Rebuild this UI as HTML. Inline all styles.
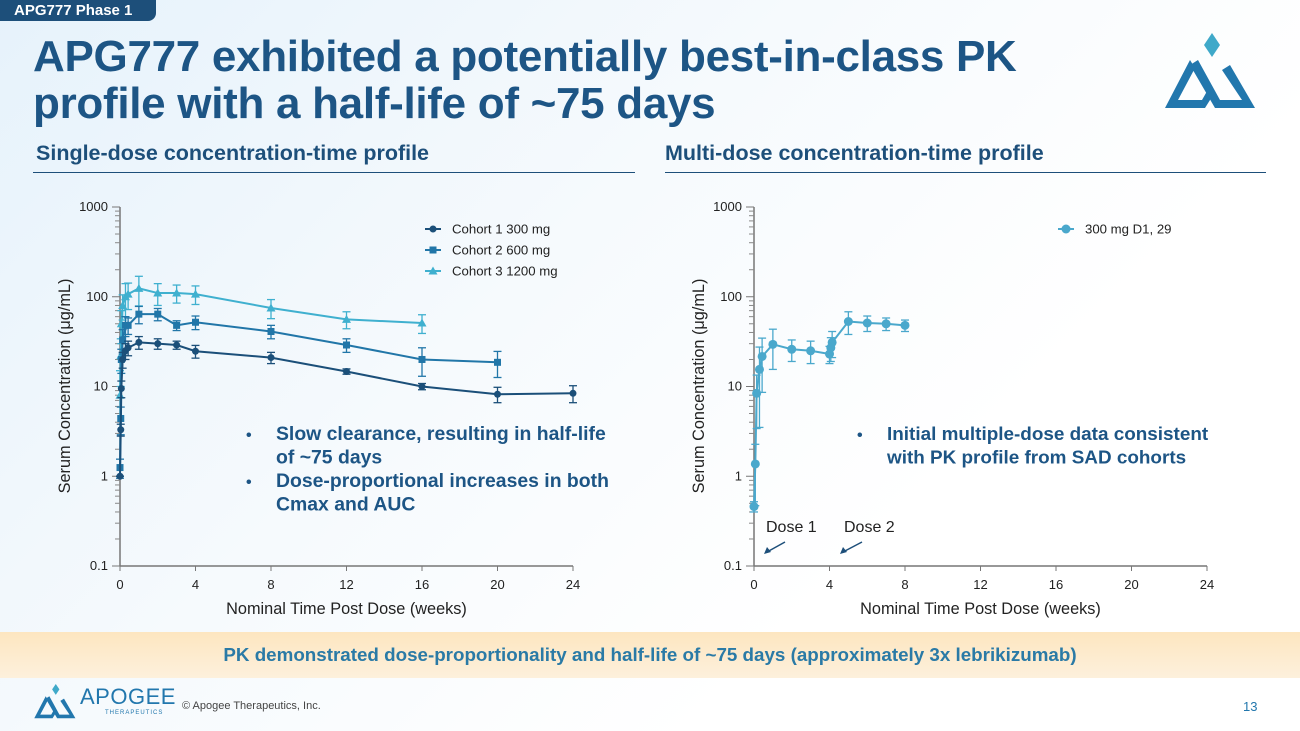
<!DOCTYPE html>
<html><head><meta charset="utf-8"><style>
body{margin:0;width:1300px;height:731px;overflow:hidden;font-family:"Liberation Sans",sans-serif;background:linear-gradient(135deg,#e6f2fb 0%,#f6fafd 40%,#ffffff 70%);position:relative}
.abs{position:absolute}
</style></head><body>
<div class="abs" style="left:0;top:0;width:156px;height:21px;background:#1d4f7a;border-bottom-right-radius:8px;color:#fff;font-weight:bold;font-size:15px;line-height:21px;padding-left:14px;box-sizing:border-box">APG777 Phase 1</div>
<div class="abs" style="left:33px;top:33px;color:#1d5585;font-weight:bold;font-size:44px;line-height:47px;letter-spacing:-0.3px;white-space:nowrap">APG777 exhibited a potentially best-in-class PK<br>profile with a half-life of ~75 days</div>
<svg class="abs" style="left:1160px;top:30px" width="105" height="85" viewBox="0 0 105 85"><polygon points="52,3 60,15 52,27 44,15" fill="#3fa9c9"/><polygon points="30,35 55,78 95,78 70,35 62,40 82,70 60,70 38,30" fill="#2277ad"/><polygon points="30,30 5,78 45,78 55,62 50,56 42,70 18,70 35,38" fill="#2277ad"/></svg>
<div class="abs" style="left:36px;top:141px;font-weight:bold;font-size:21.5px;color:#1d4f7a;white-space:nowrap">Single-dose concentration-time profile</div>
<div class="abs" style="left:33px;top:172px;width:602px;height:1px;background:#1d4f7a"></div>
<div class="abs" style="left:665px;top:141px;font-weight:bold;font-size:21.5px;color:#1d4f7a;white-space:nowrap">Multi-dose concentration-time profile</div>
<div class="abs" style="left:665px;top:172px;width:601px;height:1px;background:#1d4f7a"></div>
<svg id="chart" class="abs" style="left:0;top:0" width="1300" height="731"></svg>
<div class="abs" style="left:0;top:632px;width:1300px;height:46px;background:linear-gradient(180deg,#fde6c0,#fdf0dc);text-align:center;line-height:46px;font-weight:bold;font-size:18.8px;color:#2a7aa6;white-space:nowrap">PK demonstrated dose-proportionality and half-life of ~75 days (approximately 3x lebrikizumab)</div>
<svg class="abs" style="left:32px;top:682px" width="48" height="40" viewBox="0 0 105 85"><polygon points="52,3 60,15 52,27 44,15" fill="#3fa9c9"/><polygon points="30,35 55,78 95,78 70,35 62,40 82,70 60,70 38,30" fill="#2277ad"/><polygon points="30,30 5,78 45,78 55,62 50,56 42,70 18,70 35,38" fill="#2277ad"/></svg>
<div class="abs" style="left:80px;top:684px;color:#2277ad;font-size:22px;letter-spacing:0.5px">APOGEE</div>
<div class="abs" style="left:105px;top:710px;color:#2277ad;font-size:6px;letter-spacing:1px">THERAPEUTICS</div>
<div class="abs" style="left:182px;top:700px;font-size:11px;color:#444">© Apogee Therapeutics, Inc.</div>
<div class="abs" style="left:1243px;top:699px;font-size:13px;color:#2277ad">13</div>
<script>
const c1Weeks=[0,0.04,0.07,0.14,0.29,0.43,1,2,3,4,8,12,16,20,24];
const c1Vals=[1,3.3,9.5,20,25,27,31,30,29,24.7,21,14.7,10,8.2,8.4];
const c1Err=[0,0.5,2,4,5,5,5,4,3,4,3,1,0.8,1.6,1.8];
const c2Weeks=[0,0.04,0.07,0.14,0.29,0.43,1,2,3,4,8,12,16,20];
const c2Vals=[1.25,4.4,20,33,48,48,64,64,48,52,41,29,20,18.6];
const c2Err=[0.3,1.5,6,10,12,10,14,10,6,9,7,5,7,6];
const c3Weeks=[0,0.04,0.07,0.14,0.29,0.43,1,2,3,4,8,12,16];
const c3Vals=[8,22,50,80,100,107,124,110,110,107,75,56,51];
const c3Err=[7,12,20,25,40,35,45,30,25,25,18,12,12];
const mdWeeks=[0,0.07,0.14,0.29,0.43,1,2,3,4,4.07,4.14,5,6,7,8];
const mdVals=[0.46,1.37,8.4,15.5,21.6,29.5,26,25,23,27,31,53,51,50,48];
const mdErr=[0.06,0.9,5,12,13,14,7,7,5,8,10,15,10,8,7];
const xTicks=[0,4,8,12,16,20,24];
const yTicks=[0.1,1,10,100,1000];
const yTickLabels=["0.1","1","10","100","1000"];
const NS="http://www.w3.org/2000/svg";
const svg=document.getElementById('chart');
function mk(t,a,p){const e=document.createElementNS(NS,t);for(const k in a)e.setAttribute(k,a[k]);(p||svg).appendChild(e);return e;}
function makeAxes(x0,name){
 const X=w=>x0+w*(453/24), Y=v=>566-(Math.log10(v)+1)*89.75;
 const g=mk('g',{});
 
 
 mk('line',{x1:x0,y1:207,x2:x0,y2:566,stroke:'#777','stroke-width':1.5},g);
 mk('line',{x1:x0,y1:566,x2:X(24),y2:566,stroke:'#777','stroke-width':1.5},g);
 xTicks.forEach(t=>{mk('line',{x1:X(t),y1:566,x2:X(t),y2:571,stroke:'#777'},g);
  const tx=mk('text',{x:X(t),y:589,'text-anchor':'middle','font-size':13,fill:'#222'},g);tx.textContent=t;});
 yTicks.forEach((t,i)=>{mk('line',{x1:x0-8,y1:Y(t),x2:x0,y2:Y(t),stroke:'#777'},g);
  const tx=mk('text',{x:x0-12,y:Y(t)+4,'text-anchor':'end','font-size':13,fill:'#222'},g);tx.textContent=yTickLabels[i];
  if(i<yTicks.length-1)for(let m=2;m<10;m++){mk('line',{x1:x0-5,y1:Y(t*m),x2:x0,y2:Y(t*m),stroke:'#888'},g);}});
 const xl=mk('text',{x:X(12),y:614,'text-anchor':'middle','font-size':16.3,fill:'#222'},g);xl.textContent='Nominal Time Post Dose (weeks)';
 const yl=mk('text',{x:0,y:0,'text-anchor':'middle','font-size':16.3,fill:'#222',transform:`translate(${x0-50},386) rotate(-90)`},g);yl.textContent='Serum Concentration (μg/mL)';
 return {X,Y};
}
function series(ax,ws,vs,es,col,shape,name){
 const g=mk('g',{});
 
 
 ws.forEach((w,i)=>{const x=ax.X(w),lo=Math.max(vs[i]-es[i],0.09),hi=vs[i]+es[i];
  mk('line',{x1:x,y1:ax.Y(lo),x2:x,y2:ax.Y(hi),stroke:col,'stroke-width':1.3},g);
  mk('line',{x1:x-4,y1:ax.Y(lo),x2:x+4,y2:ax.Y(lo),stroke:col,'stroke-width':1.3},g);
  mk('line',{x1:x-4,y1:ax.Y(hi),x2:x+4,y2:ax.Y(hi),stroke:col,'stroke-width':1.3},g);});
 mk('polyline',{points:ws.map((w,i)=>ax.X(w)+','+ax.Y(vs[i])).join(' '),fill:'none',stroke:col,'stroke-width':2},g);
 ws.forEach((w,i)=>{marker(g,ax.X(w),ax.Y(vs[i]),col,shape);});
}
function marker(g,x,y,col,shape){
 if(shape==='c')mk('circle',{cx:x,cy:y,r:3.5,fill:col},g);
 else if(shape==='C')mk('circle',{cx:x,cy:y,r:4.5,fill:col},g);
 else if(shape==='s')mk('rect',{x:x-3.5,y:y-3.5,width:7,height:7,fill:col},g);
 else mk('polygon',{points:`${x},${y-4.5} ${x+4.5},${y+3.5} ${x-4.5},${y+3.5}`,fill:col},g);
}
function legend(x,y,col,shape,label,name){
 const g=mk('g',{});
 
 
 mk('line',{x1:x,y1:y,x2:x+16,y2:y,stroke:col,'stroke-width':2},g);marker(g,x+8,y,col,shape);
 const t=mk('text',{x:x+27,y:y+4.5,'font-size':13.2,fill:'#222'},g);t.textContent=label;
}
const L=makeAxes(120,'single-dose-axes');
series(L,c3Weeks,c3Vals,c3Err,'#3fb0cf','t','cohort3-series');
series(L,c2Weeks,c2Vals,c2Err,'#2176a8','s','cohort2-series');
series(L,c1Weeks,c1Vals,c1Err,'#1b4f79','c','cohort1-series');
legend(425,229,'#1b4f79','c','Cohort 1 300 mg','legend-cohort1');
legend(425,250,'#2176a8','s','Cohort 2 600 mg','legend-cohort2');
legend(425,271,'#3fb0cf','t','Cohort 3 1200 mg','legend-cohort3');
const R=makeAxes(754,'multi-dose-axes');
series(R,mdWeeks,mdVals,mdErr,'#4aa8cc','C','multi-dose-series');
legend(1058,229,'#4aa8cc','C','300 mg D1, 29','legend-multi-dose');
function bullets(x,y,lines,fs,name){
 const g=mk('g',{});
 
 
 lines.forEach((l,i)=>{if(l[0]){const b=mk('text',{x:x,y:y+i*23.5,'font-size':16,'font-weight':'bold',fill:'#1d5585'},g);b.textContent='•';}
  const t=mk('text',{x:x+30,y:y+i*23.5,'font-size':fs,'font-weight':'bold',fill:'#1d5585'},g);t.textContent=l[1];});
}
bullets(246,440,[[1,'Slow clearance, resulting in half-life'],[0,'of ~75 days'],[1,'Dose-proportional increases in both'],[0,'Cmax and AUC']],19.4,'left-callout');
bullets(857,440,[[1,'Initial multiple-dose data consistent'],[0,'with PK profile from SAD cohorts']],18.9,'right-callout');
[[767,'Dose 1',785,542,764,554],[845,'Dose 2',862,542,840,554]].forEach(d=>{
 const g=mk('g',{});
 
 
 const t=mk('text',{x:d[0]-1,y:532,'font-size':16,fill:'#222'},g);t.textContent=d[1];
 mk('line',{x1:d[2],y1:d[3],x2:d[4]+3,y2:d[5]-2,stroke:'#1d4f7a','stroke-width':1.5},g);
 mk('polygon',{points:`${d[4]},${d[5]} ${d[4]+3},${d[5]-7} ${d[4]+7},${d[5]-2}`,fill:'#1d4f7a'},g);
});
</script>
</body></html>
